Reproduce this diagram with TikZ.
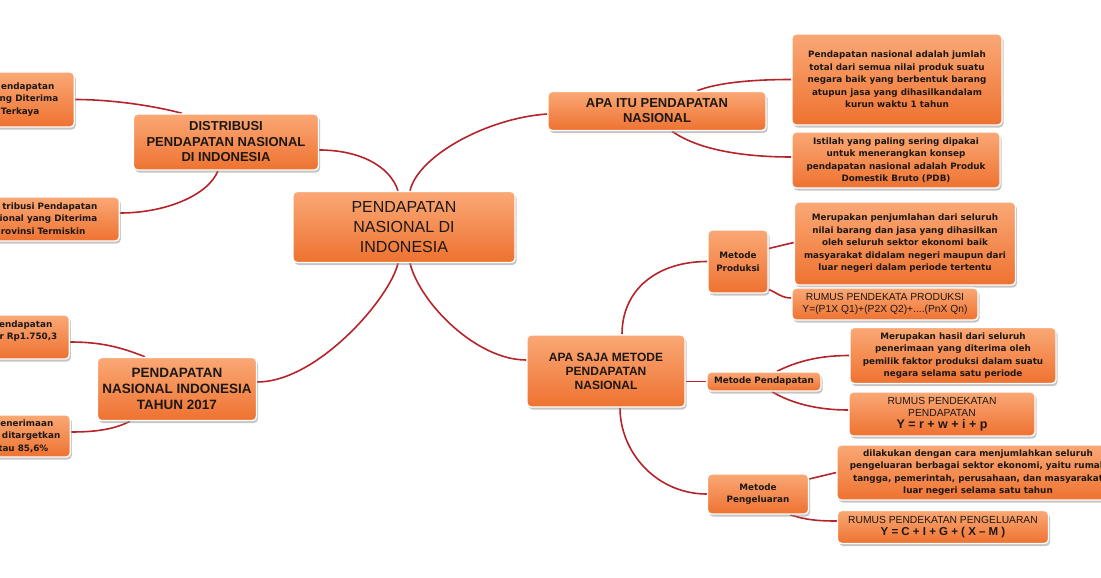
\documentclass[tikz,border=0pt]{standalone}
\usepackage{fontspec}
\setmainfont{Liberation Sans}
\newfontfamily\dejavu{DejaVu Sans}
\usetikzlibrary{shadows, backgrounds, calc}
\definecolor{boxtop}{RGB}{250,168,118}
\definecolor{boxbottom}{RGB}{238,114,48}
\definecolor{linkred}{RGB}{180,36,42}
\definecolor{ink}{RGB}{30,24,20}
\newcommand{\capsfont}[2]{\fontsize{#1}{#2}\selectfont\bfseries}
\newcommand{\plainfont}[2]{\fontsize{#1}{#2}\selectfont}
\newcommand{\leaffont}{\dejavu\bfseries\fontsize{8.8}{12.5}\selectfont}
\newcommand{\cutlines}[1]{\begin{tabular}{@{}r@{}}#1\end{tabular}}
\tikzset{
  mapbox/.style={rectangle, rounded corners=4pt, draw=white, line width=1.4pt, top color=boxtop, bottom color=boxbottom, drop shadow={shadow xshift=1.5pt, shadow yshift=-2.5pt, fill=black!45, opacity=0.5}, align=center, inner sep=0pt, text=ink},
  cutbox/.style={rectangle, rounded corners=4pt, draw=white, line width=1.4pt, top color=boxtop, bottom color=boxbottom, drop shadow={shadow xshift=1.5pt, shadow yshift=-2.5pt, fill=black!45, opacity=0.5}, inner ysep=0pt, text=ink, anchor=east, font=\leaffont},
  link/.style={draw=linkred, line width=1.6pt},
}
\begin{document}
\begin{tikzpicture}[x=1pt, y=-1pt]
  \useasboundingbox (0,0) rectangle (1101,578);
  \node[mapbox, minimum width=222pt, minimum height=71pt, font=\plainfont{16}{20}] (pusat) at (404,227) {PENDAPATAN\\NASIONAL DI\\INDONESIA};
  \node[mapbox, minimum width=185pt, minimum height=56pt, font=\capsfont{13}{15.5}] (distribusi) at (226,142) {DISTRIBUSI\\PENDAPATAN NASIONAL\\DI INDONESIA};
  \node[mapbox, minimum width=218pt, minimum height=39pt, font=\capsfont{13}{15}] (apaitu) at (657,111) {APA ITU PENDAPATAN\\NASIONAL};
  \node[mapbox, minimum width=159pt, minimum height=63pt, font=\capsfont{13.5}{16}] (tahun) at (177,389) {PENDAPATAN\\NASIONAL INDONESIA\\TAHUN 2017};
  \node[mapbox, minimum width=158pt, minimum height=72pt, font=\capsfont{12}{14}] (metode) at (606,371) {APA SAJA METODE\\PENDAPATAN\\NASIONAL};

  \node[cutbox, minimum height=55pt, inner xsep=16pt] (kaya) at (75,99.5) {\cutlines{endapatan\hspace*{4pt}\\ng Diterima\\Terkaya\hspace*{19pt}}};
  \node[cutbox, minimum height=44pt, inner xsep=22pt] (miskin) at (120,219) {\cutlines{tribusi Pendapatan\\ional yang Diterima\\rovinsi Termiskin\hspace*{12pt}}};
  \node[cutbox, minimum height=44pt, inner xsep=12pt] (realisasi) at (70,337) {\cutlines{endapatan\hspace*{5pt}\\r Rp1.750,3\\\mbox{}}};
  \node[cutbox, minimum height=42pt, inner xsep=10pt] (target) at (71,436) {\cutlines{enerimaan\hspace*{7pt}\\ditargetkan\\tau 85,6\%\hspace*{12pt}}};

  \node[mapbox, minimum width=210pt, minimum height=91pt, font=\leaffont] (arti) at (897,79.5) {Pendapatan nasional adalah jumlah\\total dari semua nilai produk suatu\\negara baik yang berbentuk barang\\atupun jasa yang dihasilkandalam\\kurun waktu 1 tahun};
  \node[mapbox, minimum width=208pt, minimum height=56pt, font=\leaffont] (istilah) at (896,160) {Istilah yang paling sering dipakai\\untuk menerangkan konsep\\pendapatan nasional adalah Produk\\Domestik Bruto (PDB)};

  \node[mapbox, minimum width=60pt, minimum height=63pt, font=\leaffont] (metprod) at (738,261.5) {Metode\\Produksi};
  \node[mapbox, minimum width=221pt, minimum height=83pt, font=\leaffont] (hasilprod) at (905,243.5) {Merupakan penjumlahan dari seluruh\\nilai barang dan jasa yang dihasilkan\\oleh seluruh sektor ekonomi baik\\masyarakat didalam negeri maupun dari\\luar negeri dalam periode tertentu};
  \node[mapbox, minimum width=186pt, minimum height=32pt, font=\plainfont{10.3}{12}] (rumusprod) at (885,304) {RUMUS PENDEKATA PRODUKSI\\Y=(P1X Q1)+(P2X Q2)+....(PnX Qn)};

  \node[mapbox, minimum width=114pt, minimum height=19pt, font=\leaffont] (metpend) at (764,381.5) {Metode Pendapatan};
  \node[mapbox, minimum width=206pt, minimum height=56pt, font=\leaffont] (hasilpend) at (953,355.5) {Merupakan hasil dari seluruh\\penerimaan yang diterima oleh\\pemilik faktor produksi dalam suatu\\negara selama satu periode};
  \node[mapbox, minimum width=186pt, minimum height=44pt, font=\plainfont{10.3}{12}] (rumuspend) at (942,414) {RUMUS PENDEKATAN\\PENDAPATAN\\{\capsfont{12.5}{15}Y = r + w + i + p}};

  \node[mapbox, minimum width=101pt, minimum height=40pt, font=\leaffont] (metpeng) at (758,494) {Metode\\Pengeluaran};
  \node[mapbox, minimum width=282pt, minimum height=55pt, font=\leaffont] (hasilpeng) at (978,472.5) {dilakukan dengan cara menjumlahkan seluruh\\pengeluaran berbagai sektor ekonomi, yaitu rumah\\tangga, pemerintah, perusahaan, dan masyarakat\\luar negeri selama satu tahun};
  \node[mapbox, minimum width=211pt, minimum height=33pt, font=\plainfont{10.3}{12}] (rumuspeng) at (943,527) {RUMUS PENDEKATAN PENGELUARAN\\{\capsfont{11.5}{13}Y = C + I + G + ( X – M )}};

  \begin{scope}[on background layer]
    \draw[link] ([xshift=-6pt]pusat.north) .. controls +(-8,-25) and +(40,0) .. ([yshift=-8pt]distribusi.east);
    \draw[link] ([xshift=6pt]pusat.north) .. controls +(8,-35) and +(-60,4) .. ([yshift=-3pt]apaitu.west);
    \draw[link] ([xshift=-6pt]pusat.south) .. controls +(-8,35) and +(60,0) .. ([yshift=7pt]tahun.east);
    \draw[link] ([xshift=6pt]pusat.south) .. controls +(10,40) and +(-50,0) .. ([yshift=11pt]metode.west);
    \draw[link] ([xshift=-44pt]distribusi.north) .. controls +(-30,-8) and +(35,0) .. (kaya.east);
    \draw[link] ([xshift=-8pt]distribusi.south) .. controls +(-10,25) and +(45,0) .. ([yshift=6pt]miskin.east);
    \draw[link] ([xshift=-32pt]tahun.north) .. controls +(-25,-10) and +(30,0) .. ([yshift=-5pt]realisasi.east);
    \draw[link] ([xshift=-47pt]tahun.south) .. controls +(-15,8) and +(25,0) .. ([yshift=4pt]target.east);
    \draw[link] ([xshift=40pt]apaitu.north) .. controls +(20,-8) and +(-40,0) .. (arti.west);
    \draw[link] ([xshift=15pt]apaitu.south) .. controls +(25,18) and +(-50,0) .. ([yshift=3pt]istilah.west);
    \draw[link] ([xshift=16pt]metode.north) .. controls +(0,-45) and +(-50,0) .. (metprod.west);
    \draw[link] (metode.east |- metpend.west) -- (metpend.west);
    \draw[link] ([xshift=14pt]metode.south) .. controls +(0,45) and +(-50,0) .. (metpeng.west);
    \draw[link] ([yshift=13pt]metprod.east) -- ([yshift=1pt]hasilprod.west);
    \draw[link] ([yshift=-28pt]metprod.east) .. controls +(8,3) and +(-10,0) .. ([yshift=6pt]rumusprod.west);
    \draw[link] ([xshift=13pt]metpend.north) .. controls +(20,-10) and +(-30,0) .. (hasilpend.west);
    \draw[link] ([xshift=8pt]metpend.south) .. controls +(20,12) and +(-30,0) .. ([yshift=4pt]rumuspend.west);
    \draw[link] ([yshift=15pt]metpeng.east) -- (hasilpeng.west);
    \draw[link] ([xshift=32pt]metpeng.south) .. controls +(15,5) and +(-20,0) .. ([yshift=6pt]rumuspeng.west);
  \end{scope}
\end{tikzpicture}
\end{document}
